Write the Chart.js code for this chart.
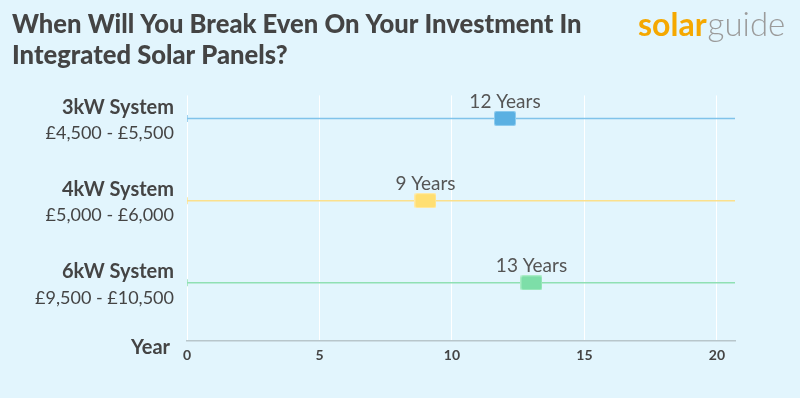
<!DOCTYPE html>
<html>
<head>
<meta charset="utf-8">
<script src="https://cdn.jsdelivr.net/npm/chart.js@4.4.1/dist/chart.umd.min.js"></script>
<style>
  html, body { margin: 0; padding: 0; background: #e2f5fd; }
  #wrap { width: 800px; height: 398px; }
</style>
</head>
<body>
<div id="wrap"><canvas id="myChart"></canvas></div>
<script>
const systems = ['3kW System', '4kW System', '6kW System'];
const prices = ['£4,500 - £5,500', '£5,000 - £6,000', '£9,500 - £10,500'];
const breakEven = [12, 9, 13];
const xTicks = [0, 5, 10, 15, 20];

const lineColors = ['#80c3ea', '#fbe08c', '#8fe0b3'];
const fillColors = ['#5ab0e2', '#ffdf72', '#7ddea8'];
const edgeColors = ['#8ccbef', '#ffeaa6', '#a9ecc6'];
const X_MAX = 20.68;
const FONT = 'Lato, "Open Sans", sans-serif';
const HEAVY = '"Lato Black", "Lato Heavy", Lato, sans-serif';

function marker(fill, edge) {
   const c = document.createElement('canvas');
   c.width = 22; c.height = 15;
   const g = c.getContext('2d');
   g.fillStyle = edge;
   g.beginPath(); g.roundRect(0, 0, 22, 15, 2); g.fill();
   g.fillStyle = fill;
   g.beginPath(); g.roundRect(1, 1, 20, 13, 1.5); g.fill();
   return c;
}

const datasets = [];
systems.forEach((s, i) => {
   datasets.push({
      type: 'line',
      label: s + ' line',
      data: [{x: 0, y: i}, {x: X_MAX, y: i}],
      borderColor: lineColors[i],
      borderWidth: 1.5,
      pointStyle: 'line',
      rotation: 90,
      pointRadius: [3.5, 0],
      pointBorderColor: lineColors[i],
      pointBorderWidth: 1.5,
      order: 2
   });
});
systems.forEach((s, i) => {
   datasets.push({
      type: 'scatter',
      label: s,
      data: [{x: breakEven[i], y: i}],
      pointStyle: marker(fillColors[i], edgeColors[i]),
      order: 1
   });
});

// category labels, "Year" and value labels
const textPlugin = {
   id: 'texts',
   afterDraw(chart) {
      const ctx = chart.ctx;
      const y = chart.scales.y, x = chart.scales.x;
      const left = chart.chartArea.left;
      ctx.save();
      ctx.fillStyle = '#444';
      ctx.textAlign = 'right';
      ctx.textBaseline = 'middle';
      systems.forEach((s, i) => {
         const py = y.getPixelForValue(i);
         ctx.font = 'bold 20px ' + FONT;
         ctx.fillText(s, left - 13, py - 11);
         ctx.font = '18px ' + FONT;
         ctx.fillText(prices[i], left - 13, py + 15);
      });
      ctx.font = 'bold 20px ' + FONT;
      ctx.fillText('Year', left - 17, chart.chartArea.bottom + 6);

      ctx.textAlign = 'center';
      ctx.textBaseline = 'bottom';
      ctx.font = '19px ' + FONT;
      ctx.fillStyle = '#555';
      breakEven.forEach((v, i) => {
         ctx.fillText(v + ' Years', x.getPixelForValue(v), y.getPixelForValue(i) - 7);
      });

      // logo
      ctx.textAlign = 'left';
      ctx.textBaseline = 'alphabetic';
      ctx.font = 'bold 32px ' + FONT;
      ctx.fillStyle = '#f5a800';
      ctx.fillText('solar', 638, 36);
      const w = ctx.measureText('solar').width;
      ctx.font = '300 33px ' + FONT;
      ctx.fillStyle = '#9b9b9b';
      ctx.fillText('guide', 638 + w + 1, 36);
      ctx.restore();
   }
};

const myChart = new Chart(document.getElementById('myChart'), {
   data: {datasets: datasets},
   options: {
      responsive: true,
      maintainAspectRatio: false,
      animation: false,
      layout: {padding: {left: 12, right: 65, top: 6, bottom: 28}},
      plugins: {
         legend: {display: false},
         tooltip: {enabled: false},
         title: {
            display: true,
            text: ['When Will You Break Even On Your Investment In', 'Integrated Solar Panels?'],
            align: 'start',
            color: '#444',
            font: {family: HEAVY, size: 25.6, weight: 900, lineHeight: 1.18},
            padding: {top: 4, bottom: 25}
         }
      },
      scales: {
         x: {
            type: 'linear',
            min: 0,
            max: X_MAX,
            afterBuildTicks: s => { s.ticks = xTicks.map(v => ({value: v})); },
            grid: {color: '#ffffff', lineWidth: 1, drawTicks: false},
            border: {display: true, color: '#b8c6cb', width: 1.5},
            ticks: {color: '#444', padding: 6, font: {family: FONT, size: 14, weight: 'bold'}}
         },
         y: {
            type: 'linear',
            reverse: true,
            min: -0.28,
            max: 2.71,
            afterFit: s => { s.width = 175; },
            grid: {display: false},
            border: {display: false},
            ticks: {display: false}
         }
      }
   },
   plugins: [textPlugin]
});
</script>
</body>
</html>
